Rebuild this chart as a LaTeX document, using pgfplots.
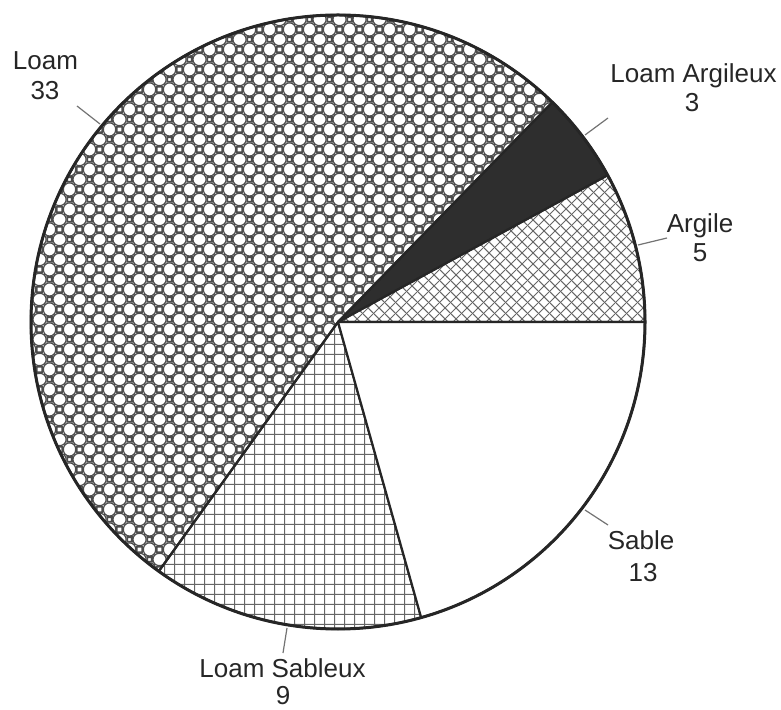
\documentclass[border=0pt]{standalone}
\usepackage{pgfplots}
\pgfplotsset{compat=1.18}
\usepackage{pgfplotstable}
\usetikzlibrary{patterns}
\usepackage{fontspec}
\setmainfont{Liberation Sans}

\pgfplotstableread{
label value
Argile 5
LoamArgileux 3
Loam 33
LoamSableux 9
Sable 13
}\piedata

\pgfplotstablegetelem{0}{value}\of\piedata \edef\vA{\pgfplotsretval}
\pgfplotstablegetelem{1}{value}\of\piedata \edef\vB{\pgfplotsretval}
\pgfplotstablegetelem{2}{value}\of\piedata \edef\vC{\pgfplotsretval}
\pgfplotstablegetelem{3}{value}\of\piedata \edef\vD{\pgfplotsretval}
\pgfplotstablegetelem{4}{value}\of\piedata \edef\vE{\pgfplotsretval}
\pgfmathsetmacro\tot{\vA+\vB+\vC+\vD+\vE}
\pgfmathsetmacro\eA{360*\vA/\tot}
\pgfmathsetmacro\eB{\eA+360*\vB/\tot}
\pgfmathsetmacro\eC{\eB+360*\vC/\tot}
\pgfmathsetmacro\eD{\eC+360*\vD/\tot}
\pgfmathsetmacro\eE{\eD+360*\vE/\tot}

\pgfdeclarepatternformonly{loamcirc}{\pgfpointorigin}{\pgfpoint{20pt}{20pt}}{\pgfpoint{20pt}{20pt}}{%
  \pgfsetlinewidth{1.2pt}%
  \pgfpathcircle{\pgfpoint{10pt}{0pt}}{6.4pt}%
  \pgfpathcircle{\pgfpoint{0pt}{10pt}}{6.4pt}%
  \pgfpathcircle{\pgfpoint{20pt}{10pt}}{6.4pt}%
  \pgfpathcircle{\pgfpoint{10pt}{20pt}}{6.4pt}%
  \pgfusepath{stroke}%
  \pgfsetlinewidth{2pt}%
  \pgfpathrectangle{\pgfpoint{-2.4pt}{-2.4pt}}{\pgfpoint{4.8pt}{4.8pt}}%
  \pgfpathrectangle{\pgfpoint{17.6pt}{-2.4pt}}{\pgfpoint{4.8pt}{4.8pt}}%
  \pgfpathrectangle{\pgfpoint{-2.4pt}{17.6pt}}{\pgfpoint{4.8pt}{4.8pt}}%
  \pgfpathrectangle{\pgfpoint{17.6pt}{17.6pt}}{\pgfpoint{4.8pt}{4.8pt}}%
  \pgfpathrectangle{\pgfpoint{7.6pt}{7.6pt}}{\pgfpoint{4.8pt}{4.8pt}}%
  \pgfusepath{stroke}%
}
\pgfdeclarepatternformonly{xhatch}{\pgfpointorigin}{\pgfpoint{11pt}{11pt}}{\pgfpoint{11pt}{11pt}}{%
  \pgfsetlinewidth{1pt}%
  \pgfpathmoveto{\pgfpoint{-1pt}{-1pt}}\pgfpathlineto{\pgfpoint{12pt}{12pt}}%
  \pgfpathmoveto{\pgfpoint{-1pt}{12pt}}\pgfpathlineto{\pgfpoint{12pt}{-1pt}}%
  \pgfusepath{stroke}%
}
\pgfdeclarepatternformonly{sqgrid}{\pgfpointorigin}{\pgfpoint{10pt}{10pt}}{\pgfpoint{10pt}{10pt}}{%
  \pgfsetlinewidth{1pt}%
  \pgfpathmoveto{\pgfpoint{5pt}{-1pt}}\pgfpathlineto{\pgfpoint{5pt}{11pt}}%
  \pgfpathmoveto{\pgfpoint{-1pt}{5pt}}\pgfpathlineto{\pgfpoint{11pt}{5pt}}%
  \pgfusepath{stroke}%
}

\newcommand\lbl{\fontsize{26}{31}\selectfont}

\begin{document}
\begin{tikzpicture}
\begin{axis}[
  x=1pt, y=1pt,
  xmin=0, xmax=781, ymin=0, ymax=709,
  hide axis, clip=false,
]
\coordinate (BL) at (axis cs:0,0);
\coordinate (TR) at (axis cs:781,709);
% slices
\filldraw[pattern=xhatch, pattern color=black!60, draw=black!85, line width=2.2pt, line join=round]
  (axis cs:338,387) -- ++(0:307pt) arc[start angle=0, end angle=\eA, radius=307pt] -- cycle;
\filldraw[fill=black!82, draw=black!85, line width=2.2pt, line join=round]
  (axis cs:338,387) -- ++(\eA:307pt) arc[start angle=\eA, end angle=\eB, radius=307pt] -- cycle;
\filldraw[pattern=loamcirc, pattern color=black!70, draw=black!85, line width=2.2pt, line join=round]
  (axis cs:338,387) -- ++(\eB:307pt) arc[start angle=\eB, end angle=\eC, radius=307pt] -- cycle;
\filldraw[pattern=sqgrid, pattern color=black!60, draw=black!85, line width=2.2pt, line join=round]
  (axis cs:338,387) -- ++(\eC:307pt) arc[start angle=\eC, end angle=\eD, radius=307pt] -- cycle;
\filldraw[fill=white, draw=black!85, line width=2.2pt, line join=round]
  (axis cs:338,387) -- ++(\eD:307pt) arc[start angle=\eD, end angle=\eE, radius=307pt] -- cycle;
\draw[black!85, line width=3pt] (axis cs:338,387) circle[radius=307pt];
% leader lines
\draw[black!55, line width=1.2pt] (axis cs:77,603) -- (axis cs:100,585);
\draw[black!55, line width=1.2pt] (axis cs:585,574) -- (axis cs:608,591);
\draw[black!55, line width=1.2pt] (axis cs:638,464) -- (axis cs:667,471);
\draw[black!55, line width=1.2pt] (axis cs:585,199) -- (axis cs:608,184);
\draw[black!55, line width=1.2pt] (axis cs:287,81) -- (axis cs:283,56);
% labels
\begin{scope}[every node/.style={anchor=base, font=\lbl, text=black!85, inner sep=0pt}]
\node at (axis cs:45.5,639.7) {Loam};
\node at (axis cs:45,609) {33};
\node at (axis cs:693.5,626) {Loam Argileux};
\node at (axis cs:692,597) {3};
\node at (axis cs:700,476) {Argile};
\node at (axis cs:700,447) {5};
\node at (axis cs:641,159) {Sable};
\node at (axis cs:643,127.3) {13};
\node at (axis cs:282.5,32) {Loam Sableux};
\node at (axis cs:283,5) {9};
\end{scope}
\end{axis}
\pgfresetboundingbox
\path (BL) rectangle (TR);
\end{tikzpicture}
\end{document}
